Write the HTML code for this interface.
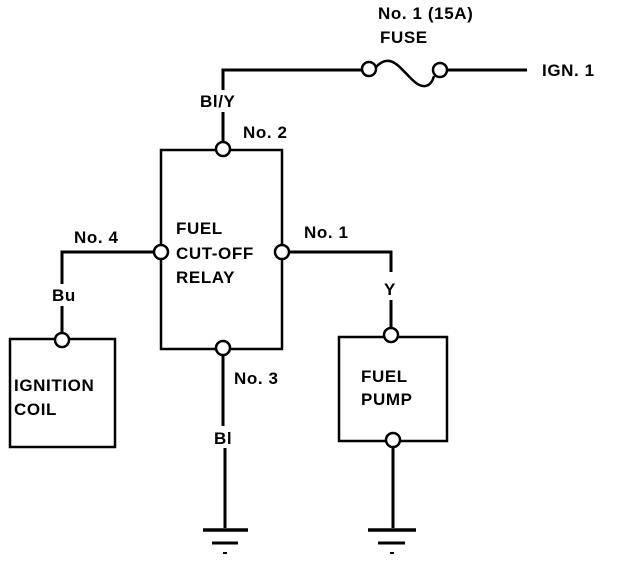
<!DOCTYPE html>
<html><head><style>
body{margin:0;background:#fff;}
svg text{font-family:"Liberation Sans",sans-serif;font-weight:bold;font-size:17px;letter-spacing:0.6px;fill:#000;}
</style></head><body>
<svg width="624" height="562" viewBox="0 0 624 562">
<g stroke="#000" stroke-width="3" fill="none">
<rect x="161" y="150" width="121" height="199" stroke-width="2.5"/>
<polyline points="223,90 223,70 362,70"/>
<line x1="223" y1="112" x2="223" y2="142"/>
<path d="M376,67 C392,50 402,72 416,83 C426,90 432,84 434,76" stroke-width="2.5"/>
<line x1="447" y1="70" x2="527" y2="70"/>
<polyline points="154,252 62,252 62,284"/>
<line x1="62" y1="306" x2="62" y2="333"/>
<rect x="10" y="339" width="105" height="108" stroke-width="2.5"/>
<polyline points="289,252 391,252 391,272"/>
<line x1="391" y1="300" x2="391" y2="330"/>
<rect x="339" y="337" width="108" height="104" stroke-width="2.5"/>
<line x1="393" y1="447" x2="393" y2="528"/>
<line x1="223" y1="355" x2="223" y2="426"/>
<line x1="225" y1="448" x2="225" y2="528"/>
<line x1="203" y1="530" x2="248" y2="530" stroke-width="3.5"/>
<line x1="212" y1="543" x2="238" y2="543" stroke-width="3"/>
<line x1="223" y1="553" x2="227" y2="553" stroke-width="2"/>
<line x1="368" y1="530" x2="416" y2="530" stroke-width="3.5"/>
<line x1="378" y1="543" x2="405" y2="543" stroke-width="3"/>
<line x1="390" y1="553" x2="394" y2="553" stroke-width="2"/>
</g>
<g stroke="#000" stroke-width="2.5" fill="#fff">
<circle cx="223" cy="149" r="7"/>
<circle cx="161" cy="252" r="7"/>
<circle cx="282" cy="252" r="7"/>
<circle cx="223" cy="348" r="7"/>
<circle cx="369" cy="69" r="7"/>
<circle cx="440" cy="70" r="7"/>
<circle cx="62" cy="340" r="7"/>
<circle cx="391" cy="335" r="7"/>
<circle cx="393" cy="440" r="7"/>
</g>
<text x="378" y="19">No. 1 (15A)</text>
<text x="380" y="43">FUSE</text>
<text x="542" y="76">IGN. 1</text>
<text x="200" y="107">Bl/Y</text>
<text x="243" y="138">No. 2</text>
<text x="176" y="234">FUEL</text>
<text x="176" y="259">CUT-OFF</text>
<text x="176" y="283">RELAY</text>
<text x="74" y="243">No. 4</text>
<text x="304" y="238">No. 1</text>
<text x="52" y="301">Bu</text>
<text x="384" y="295">Y</text>
<text x="234" y="384">No. 3</text>
<text x="214" y="444">Bl</text>
<text x="14" y="391">IGNITION</text>
<text x="14" y="415">COIL</text>
<text x="361" y="382">FUEL</text>
<text x="361" y="405">PUMP</text>
</svg>
</body></html>
